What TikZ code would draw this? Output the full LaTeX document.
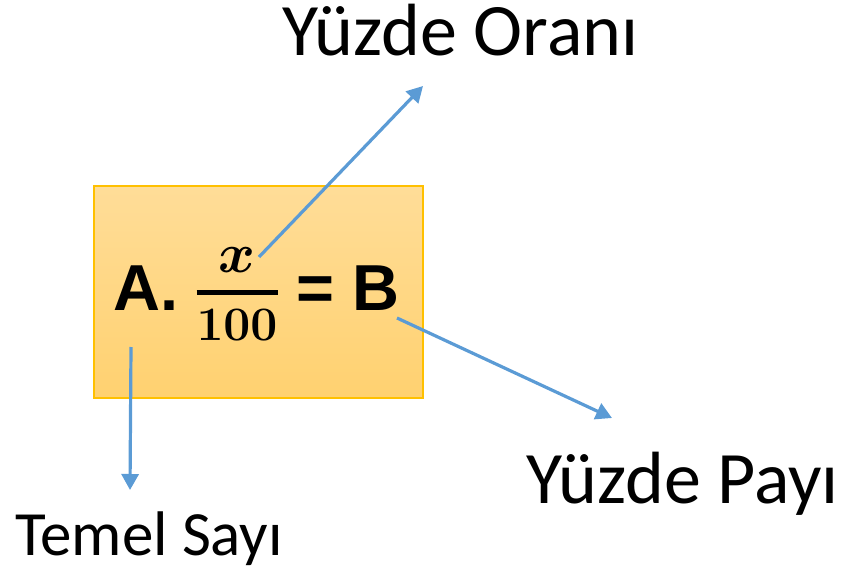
\documentclass[tikz,border=0pt]{standalone}
\usepackage{fix-cm}
\usepackage{amsmath,amssymb}
\usepackage[no-math]{fontspec}
\setmainfont{Carlito}
\newfontfamily\formulafont{Liberation Sans}
\definecolor{boxTop}{RGB}{255,221,152}
\definecolor{boxBottom}{RGB}{255,209,112}
\definecolor{boxEdge}{RGB}{255,192,0}
\definecolor{pointerBlue}{RGB}{91,155,213}
\usetikzlibrary{arrows.meta,positioning,calc}
\tikzstyle{formulabox}=[draw=boxEdge, line width=1.5pt, top color=boxTop, bottom color=boxBottom, minimum width=329pt, minimum height=212pt, inner sep=0pt]
\tikzstyle{formula}=[font=\formulafont\bfseries\fontsize{65}{78}\selectfont, inner sep=0pt, anchor=base west]
\tikzstyle{ratio}=[font=\fontsize{48}{58}\selectfont, inner sep=0pt, anchor=base]
\tikzstyle{caption}=[font=\fontsize{74}{88}\selectfont, inner sep=0pt, anchor=base west]
\tikzstyle{pointer}=[draw=pointerBlue, line width=3.2pt, -{Triangle[length=16pt,width=17pt]}]

\begin{document}
\begin{tikzpicture}[x=1pt,y=-1pt]
        \useasboundingbox (0,0) rectangle (846,575);
        % box with the formula
        \node[formulabox] (frame) at (258.5,292) {};
        \node[formula] (lhs) at (113,310) {A.};
        \node[ratio] (frac) at (237,304.5) {$\genfrac{}{}{5pt}{0}{\text{\fontsize{56}{60}\selectfont$\boldsymbol{x}$}}{\mathbf{100}}$};
        \node[formula] (rhs) at (296,310) {= B};
        % labels
        \node[caption] (oran) at (282,56) {Yüzde Oranı};
        \node[caption] (pay) at (526,503) {Yüzde Payı};
        \node[caption, font=\fontsize{63}{76}\selectfont] (temel) at (15,555) {Temel Sayı};
        % arrow ends
        \coordinate (oranFrom) at (259,257);
        \coordinate (oranTo) at (423,86);
        \coordinate (temelFrom) at (131,347);
        \coordinate (temelTo) at (130,490);
        \coordinate (payFrom) at (397,318);
        \coordinate (payTo) at (612,418);
        \draw[pointer] (oranFrom) -- (oranTo);
        \draw[pointer] (temelFrom) -- (temelTo);
        \draw[pointer] (payFrom) -- (payTo);
      \end{tikzpicture}
\end{document}
